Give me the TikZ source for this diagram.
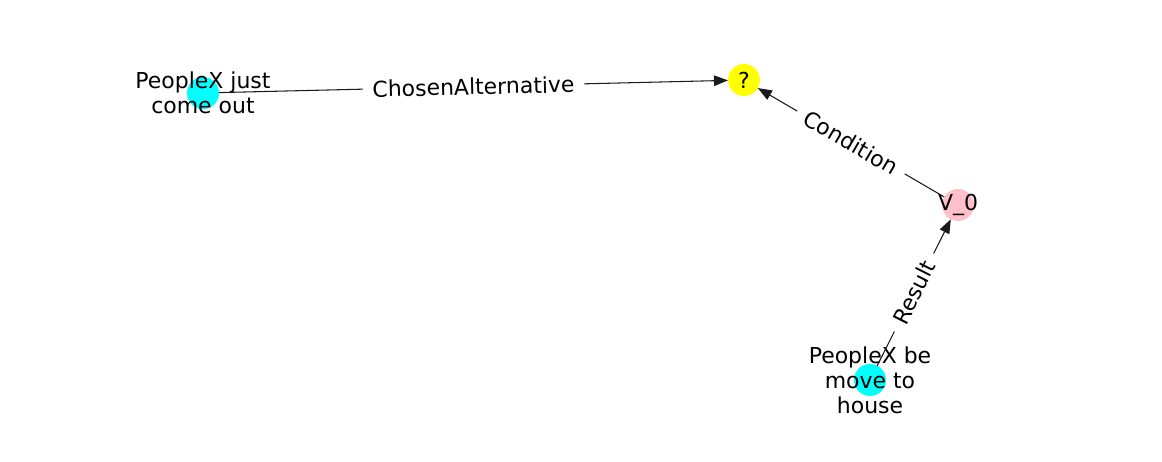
\documentclass[tikz,border=0pt]{standalone}
\usepackage{fontspec}
\setmainfont{DejaVu Sans}
\usetikzlibrary{arrows.meta}
\definecolor{aqua}{HTML}{00FFFF}
\definecolor{lemon}{HTML}{FFFF00}
\definecolor{blush}{HTML}{FFC0CB}
\definecolor{edgeink}{HTML}{1A1A1A}

\begin{document}
\begin{tikzpicture}[x=0.02cm,y=-0.02cm,>={Triangle[length=8pt,width=6pt]},
  font=\fontsize{12.5}{14.2}\selectfont,
  dot/.style={circle,inner sep=0pt,outer sep=0pt,minimum size=0.64cm},
  word/.style={align=center,inner sep=0pt},
  rel/.style={->,edgeink,line width=0.6pt},
  tag/.style={midway,sloped,fill=white,inner xsep=5.5pt,inner ysep=2pt,text=black}]
  \useasboundingbox (0,0) rectangle (1162,462);

  % nodes
  \node[dot,fill=aqua] (come) at (203,93) {};
  \node[dot,fill=lemon] (ask) at (744,80) {};
  \node[dot,fill=blush] (v0) at (958,205) {};
  \node[dot,fill=aqua] (move) at (870,380) {};

  \node[word] (come-t) at (203,93) {PeopleX just\\come out};
  \node[word] (ask-t) at (744,80) {?};
  \node[word] (v0-t) at (958,205) {V\_0};
  \node[word] (move-t) at (870,380) {PeopleX be\\move to\\house};

  % edges
  \draw[rel] (come) -- (ask) node[tag] {ChosenAlternative};
  \draw[rel] (v0) -- (ask) node[tag] {Condition};
  \draw[rel] (move) -- (v0) node[tag] {Result};
\end{tikzpicture}
\end{document}
